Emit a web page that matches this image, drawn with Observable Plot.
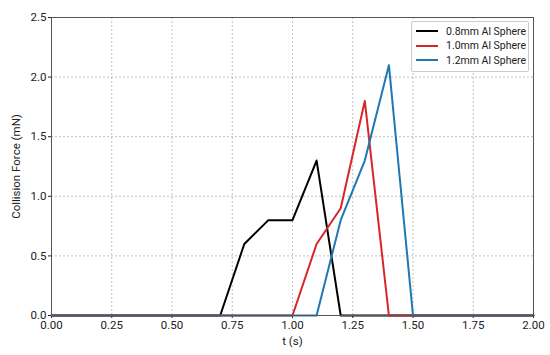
<!DOCTYPE html>
<html>
<head>
<meta charset="utf-8">
<script src="https://cdn.jsdelivr.net/npm/d3@7"></script>
<script src="https://cdn.jsdelivr.net/npm/@observablehq/plot@0.6"></script>
<style>
  body { margin: 0; background: #fff; font-family: Roboto, "Open Sans", sans-serif; }
  #wrap { position: relative; width: 550px; height: 355px; }
  #legend { position: absolute; left: 411px; top: 21px; width: 116px; border: 1px solid #ccc; border-radius: 2px; background: rgba(255,255,255,0.9); padding: 2px 0 3px 0; font-size: 10.5px; color: #222; }
  .row { display: flex; align-items: center; height: 14.5px; }
  .sw { width: 22px; height: 0; border-top: 2px solid; margin: 0 8px 0 4px; }
</style>
</head>
<body>
<div id="wrap"><div id="chart"></div><div id="legend"></div></div>
<script>
const t = [0.0,0.1,0.2,0.3,0.4,0.5,0.6,0.7,0.8,0.9,1.0,1.1,1.2,1.3,1.4,1.5,1.6,1.7,1.8,1.9,2.0];
const s08 = [0,0,0,0,0,0,0,0,0.6,0.8,0.8,1.3,0,0,0,0,0,0,0,0,0];
const s10 = [0,0,0,0,0,0,0,0,0,0,0,0.6,0.9,1.8,0,0,0,0,0,0,0];
const s12 = [0,0,0,0,0,0,0,0,0,0,0,0,0.8,1.3,2.1,0,0,0,0,0,0];
const seriesNames = ["0.8mm Al Sphere","1.0mm Al Sphere","1.2mm Al Sphere"];
const seriesColors = ["#000000","#d62728","#1f77b4"];
const xTicks = [0,0.25,0.5,0.75,1.0,1.25,1.5,1.75,2.0];
const yTicks = [0,0.5,1.0,1.5,2.0,2.5];

const allSeries = [s08, s10, s12];
const data = [];
allSeries.forEach((vals, i) => vals.forEach((v, j) => data.push({t: t[j], f: v, s: seriesNames[i]})));

const chart = Plot.plot({
  width: 550, height: 355,
  marginLeft: 51, marginRight: 17, marginTop: 17, marginBottom: 40,
  style: {fontFamily: "Roboto, 'Open Sans', sans-serif", fontSize: "11.5px", color: "#222"},
  x: {domain: [0, 2], ticks: xTicks, tickFormat: d3.format(".2f"), label: "t (s)", labelAnchor: "center", labelArrow: "none", tickSize: 3},
  y: {domain: [0, 2.5], ticks: yTicks, tickFormat: d3.format(".1f"), label: "Collision Force (mN)", labelAnchor: "center", labelArrow: "none", tickSize: 3},
  color: {domain: seriesNames, range: seriesColors},
  marks: [
    Plot.gridX(xTicks, {stroke: "#b0b0b0", strokeOpacity: 1, strokeDasharray: "2,2", strokeWidth: 0.8}),
    Plot.gridY(yTicks, {stroke: "#b0b0b0", strokeOpacity: 1, strokeDasharray: "2,2", strokeWidth: 0.8}),
    Plot.axisX({ticks: xTicks, tickFormat: d3.format(".2f"), tickSize: 3, tickPadding: 2, label: "t (s)", labelAnchor: "center", labelArrow: "none", labelOffset: 29, fontSize: 11.5}),
    Plot.axisY({ticks: yTicks, tickFormat: d3.format(".1f"), tickSize: 3, tickPadding: 2, label: "Collision Force (mN)", labelAnchor: "center", labelArrow: "none", labelOffset: 40, fontSize: 11.5}),
    Plot.lineY(data, {x: "t", y: "f", z: "s", stroke: "s", strokeWidth: 2, clip: false}),
    Plot.frame({stroke: "#555", strokeWidth: 1})
  ]
});
document.getElementById("chart").appendChild(chart);

const legend = document.getElementById("legend");
seriesNames.forEach((n, i) => {
  const row = document.createElement("div");
  row.className = "row";
  const sw = document.createElement("div");
  sw.className = "sw";
  sw.style.borderTopColor = seriesColors[i];
  const lab = document.createElement("span");
  lab.textContent = n;
  row.appendChild(sw); row.appendChild(lab);
  legend.appendChild(row);
});
</script>
</body>
</html>
